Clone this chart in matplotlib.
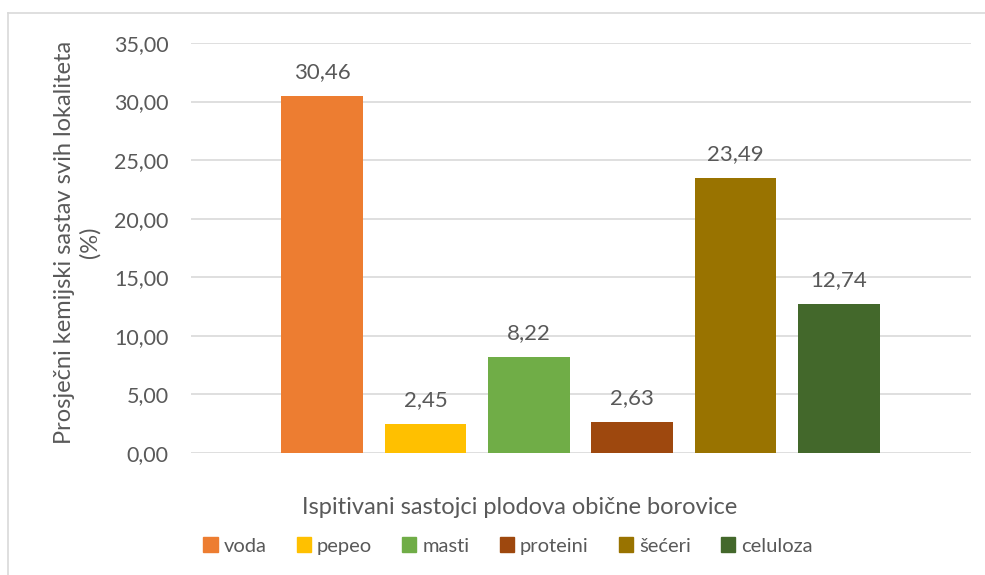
import matplotlib.pyplot as plt
from matplotlib.lines import Line2D
from matplotlib.patches import Patch

# data
categories = ['voda', 'pepeo', 'masti', 'proteini', 'šećeri', 'celuloza']
values = [30.46, 2.45, 8.22, 2.63, 23.49, 12.74]
colors = ['#ED7D31', '#FFC000', '#70AD47', '#9E480E', '#997300', '#43682B']
yticks = [0, 5, 10, 15, 20, 25, 30, 35]

txt = '#595959'
plt.rcParams['font.family'] = ['Lato', 'DejaVu Sans']

fig = plt.figure(figsize=(9.85, 5.75), dpi=100)
ax = fig.add_axes([0.1939, 0.2122, 0.7919, 0.713])

x = list(range(len(values)))
bars = ax.bar(x, values, width=0.79, color=colors, zorder=2)
for xi, v in zip(x, values):
    ax.annotate(f'{v:.2f}'.replace('.', ','), (xi, v), xytext=(0, 10),
                textcoords='offset points', ha='center', va='bottom',
                fontsize=16, color=txt)

ax.set_xlim(-1.267, 6.277)
ax.set_ylim(0, 35)
ax.set_yticks(yticks)
ax.set_yticklabels([f'{t:.2f}'.replace('.', ',') for t in yticks], fontsize=15.5, color=txt)
ax.set_xticks([])
ax.tick_params(axis='y', length=0, pad=16)
ax.grid(axis='y', color='#D9D9D9', linewidth=1.2, zorder=0)
for s in ax.spines.values():
    s.set_visible(False)

fig.text(77 / 985, 1 - 242 / 575, 'Prosječni kemijski sastav svih lokaliteta\n(%)',
         rotation=90, ha='center', va='center', fontsize=17, color=txt,
         multialignment='center', linespacing=1.25)
fig.text(520 / 985, 1 - 508 / 575, 'Ispitivani sastojci plodova obične borovice',
         ha='center', va='center', fontsize=17, color=txt)

handles = [Patch(color=c, label=l) for c, l in zip(colors, categories)]
fig.legend(handles=handles, loc='center', bbox_to_anchor=(508 / 985, 1 - 546 / 575),
           ncol=6, frameon=False, fontsize=14.5, labelcolor=txt,
           handlelength=0.7, handleheight=0.7, handletextpad=0.3, columnspacing=1.5)

# chart border (left and top only visible)
fig.add_artist(Line2D([8 / 985, 8 / 985], [0, 1 - 13 / 575], color='#D9D9D9', linewidth=1.2,
                      transform=fig.transFigure))
fig.add_artist(Line2D([8 / 985, 1], [1 - 13 / 575, 1 - 13 / 575], color='#D9D9D9', linewidth=1.2,
                      transform=fig.transFigure))

fig.savefig('out.png', dpi=100)
